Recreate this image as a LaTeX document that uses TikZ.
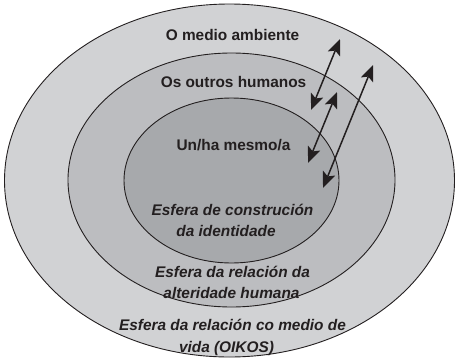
\documentclass[tikz,border=0pt]{standalone}
\usepackage{fontspec}
\setmainfont{Liberation Sans}
\usetikzlibrary{arrows.meta,shapes.geometric}
\definecolor{outerfill}{RGB}{209,210,212}
\definecolor{midfill}{RGB}{188,189,192}
\definecolor{innerfill}{RGB}{167,169,172}
\definecolor{ink}{RGB}{35,31,32}
\tikzset{
  sphere/.style={ellipse, draw=ink, line width=0.9pt, inner sep=0pt},
  lbl/.style={anchor=base, text=ink, inner sep=0pt, font=\fontsize{15.4}{18}\selectfont\bfseries},
  ilbl/.style={lbl, font=\fontsize{15.4}{18}\selectfont\bfseries\itshape},
  headtip/.tip={Stealth[length=16pt,width=13pt,inset=3.5pt]},
  dbl/.style={draw=ink, fill=ink, line width=1.5pt, headtip-headtip}
}
\begin{document}
\begin{tikzpicture}[x=1pt,y=-1pt]
\useasboundingbox (0,0) rectangle (455,359);
\node[sphere, fill=outerfill, minimum width=450pt, minimum height=353pt] (outer) at (229.5,180.5) {};
\node[sphere, fill=midfill, minimum width=327pt, minimum height=254pt] (middle) at (231.5,180) {};
\node[sphere, fill=innerfill, minimum width=215pt, minimum height=165pt] (inner) at (231.5,180.5) {};

\node[lbl] (t1) at (232.5,40) {O medio ambiente};
\node[lbl] (t2) at (233.5,87) {Os outros humanos};
\node[lbl] (t3) at (233.5,150) {Un/ha mesmo/a};
\node[ilbl] (t4a) at (232.5,215) {Esfera de construción};
\node[ilbl] (t4b) at (226,236) {da identidade};
\node[ilbl] (t5a) at (232.5,277) {Esfera da relación da};
\node[ilbl] (t5b) at (231.5,298) {alteridade humana};
\node[ilbl] (t6a) at (232.5,330) {Esfera da relación co medio de};
\node[ilbl] (t6b) at (226.5,352) {vida (OIKOS)};

\coordinate (a1s) at (311,110);
\coordinate (a1e) at (340,39);
\coordinate (a2s) at (308,163);
\coordinate (a2e) at (337,92);
\coordinate (a3s) at (323,188);
\coordinate (a3e) at (373,65);
\draw[dbl] (a1s) -- (a1e);
\draw[dbl] (a2s) -- (a2e);
\draw[dbl] (a3s) -- (a3e);
\end{tikzpicture}
\end{document}
